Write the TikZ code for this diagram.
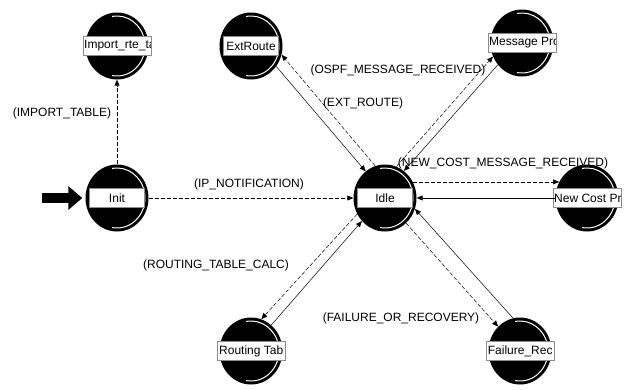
\documentclass[tikz,border=0pt]{standalone}
\usepackage{fontspec}
\setmainfont{Liberation Sans}
\usetikzlibrary{shapes.geometric,arrows.meta,calc}

\begin{document}
\begin{tikzpicture}[
    x=1pt, y=-1pt,
    state/.style={ellipse, fill=black, minimum width=63pt, minimum height=67pt, inner sep=0pt},
    ring/.style={white, line width=1pt},
    lbl/.style={rectangle, fill=white, draw=black!45, line width=0.4pt, minimum width=55pt,
                minimum height=19pt, inner sep=0pt, font=\fontsize{12pt}{14pt}\selectfont},
    lbllong/.style n args={2}{lbl, minimum width=68pt,
                path picture={\node[anchor=west, inner sep=1pt, font=\fontsize{12pt}{14pt}\selectfont]
                (#1) at (path picture bounding box.west) {#2};}},
    elbl/.style={inner sep=0pt, font=\fontsize{12pt}{14pt}\selectfont},
    dasharr/.style={-{Triangle[length=6pt,width=5pt]}, line width=0.5pt, dash pattern=on 4pt off 2pt},
    solarr/.style={-{Triangle[length=6pt,width=5pt]}, line width=0.5pt},
    startarr/.style={-{Triangle[length=14pt,width=23pt]}, line width=10pt, shorten >=3pt}
]
    \fill[white] (0,0) rectangle (629,389);
    \useasboundingbox (0,0) rectangle (629,389);

    % states
    \node[state] (imp)  at (117, 46) {};
    \node[state] (ext)  at (251, 46) {};
    \node[state] (msg)  at (522, 43) {};
    \node[state] (init) at (117,198) {};
    \node[state] (idle) at (385,198) {};
    \node[state] (cost) at (587,198) {};
    \node[state] (rout) at (251,351) {};
    \node[state] (fail) at (520,351) {};
    \foreach \s in {imp,ext,msg,init,idle,cost,rout,fail}
        \draw[ring] ($(\s.center)+(100:28pt and 30pt)$)
            arc[start angle=100, end angle=-100, x radius=28pt, y radius=30pt];

    \node[lbl] (initlbl) at (init) {Init};
    \node[lbl] (idlelbl) at (idle) {Idle};
    \node[lbl] (extlbl)  at (ext)  {ExtRoute};
    \node[lbllong={imptxt}{Import\_rte\_ta}]  (implbl)  at (imp)  {};
    \node[lbllong={msgtxt}{Message Pro}]      (msglbl)  at (msg)  {};
    \node[lbllong={costtxt}{New Cost Pr}]     (costlbl) at (cost) {};
    \node[lbllong={routtxt}{Routing Tab}]     (routlbl) at (rout) {};
    \node[lbllong={failtxt}{Failure\_Rec}]    (faillbl) at (fail) {};

    % initial transition
    \coordinate (start) at (42,198);
    \draw[startarr] (start) -- (init.west);

    % transitions
    \draw[dasharr] (init) -- (imp);
    \draw[dasharr] (init) -- (idle);
    \draw[dasharr] (idle.107) -- (ext.-16);
    \draw[solarr]  (ext.-39)  -- (idle.126);
    \draw[dasharr] (idle.70)  -- (msg.205);
    \draw[solarr]  (msg.222)  -- (idle.55);
    \draw[dasharr] (idle.30)  -- (cost.150);
    \draw[solarr]  (cost.180) -- (idle.0);
    \draw[dasharr] (idle.-50) -- (fail.132);
    \draw[solarr]  (fail.102) -- (idle.-20);
    \draw[dasharr] (idle.210) -- (rout.72);
    \draw[solarr]  (rout.52)  -- (idle.225);

    \node[elbl] (limp)  at (62,113)  {(IMPORT\_TABLE)};
    \node[elbl] (lip)   at (249,184) {(IP\_NOTIFICATION)};
    \node[elbl] (lospf) at (398,70)  {(OSPF\_MESSAGE\_RECEIVED)};
    \node[elbl] (lext)  at (363,103) {(EXT\_ROUTE)};
    \node[elbl] (lcost) at (503,163) {(NEW\_COST\_MESSAGE\_RECEIVED)};
    \node[elbl] (lrout) at (216,265) {(ROUTING\_TABLE\_CALC)};
    \node[elbl] (lfail) at (401,318) {(FAILURE\_OR\_RECOVERY)};
\end{tikzpicture}
\end{document}
